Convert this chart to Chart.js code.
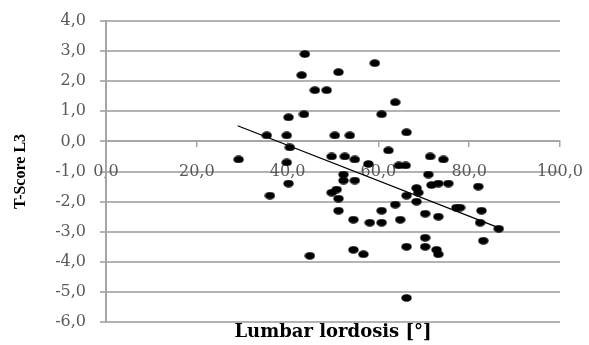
<!DOCTYPE html>
<html>
<head>
<meta charset="utf-8">
<script src="https://cdn.jsdelivr.net/npm/chart.js@4.4.0/dist/chart.umd.min.js"></script>
<style>
  html, body { margin:0; padding:0; background:#fff; }
</style>
</head>
<body>
<canvas id="grafica" width="589" height="345"></canvas>
<script>
// Lumbar lordosis [°] vs T-Score L3
var lordosis = [29.2, 35.4, 36.1, 39.8, 40.2, 39.8, 40.5, 40.2, 43.8, 43.1,
                43.6, 46.0, 48.6, 51.2, 44.9, 50.4, 53.7, 49.7, 52.6, 54.8,
                52.3, 52.3, 54.8, 49.7, 50.8, 51.2, 51.2, 59.2, 63.7, 60.7,
                66.2, 62.2, 57.8, 64.5, 66.0, 71.4, 74.3, 71.0, 71.7, 73.2,
                75.4, 82.0, 68.4, 68.8, 66.2, 68.4, 63.7, 77.2, 78.0, 82.7,
                60.7, 64.8, 70.3, 73.2, 54.5, 58.1, 60.7, 82.4, 86.5, 83.1,
                54.5, 56.7, 66.2, 70.3, 70.3, 72.8, 73.2, 66.2];
var tScore   = [-0.6, 0.2, -1.8, 0.2, 0.8, -0.7, -0.2, -1.4, 2.9, 2.2,
                0.9, 1.7, 1.7, 2.3, -3.8, 0.2, 0.2, -0.5, -0.5, -0.6,
                -1.1, -1.3, -1.3, -1.7, -1.6, -1.9, -2.3, 2.6, 1.3, 0.9,
                0.3, -0.3, -0.75, -0.8, -0.8, -0.5, -0.6, -1.1, -1.45, -1.4,
                -1.4, -1.5, -1.55, -1.7, -1.8, -2.0, -2.1, -2.2, -2.2, -2.3,
                -2.3, -2.6, -2.4, -2.5, -2.6, -2.7, -2.7, -2.7, -2.9, -3.3,
                -3.6, -3.75, -3.5, -3.2, -3.5, -3.6, -3.75, -5.2];
// linear trend line ends
var trendX = [29, 87];
var trendY = [0.52, -2.9];

function coma(v){
    return Number(v).toFixed(1).replace('.', ',');
}

var puntos = lordosis.map(function(x, i){ return {x: x, y: tScore[i]}; });
var recta = trendX.map(function(x, i){ return {x: x, y: trendY[i]}; });

// slightly flattened black dot like the original
var dot = document.createElement('canvas');
dot.width = 11; dot.height = 8;
var dctx = dot.getContext('2d');
dctx.fillStyle = '#000';
dctx.beginPath();
dctx.ellipse(5.5, 4, 5.2, 3.8, 0, 0, Math.PI*2);
dctx.fill();

var gris = '#595959';
var ctx = document.getElementById('grafica').getContext('2d');
var myChart = new Chart(ctx, {
    type: 'scatter',
    data: {
        datasets: [{
            label: 'T-Score L3',
            data: puntos,
            pointStyle: dot,
            pointRadius: 5,
            backgroundColor: '#000',
            borderColor: '#000'
        }, {
            label: 'Lineal',
            data: recta,
            showLine: true,
            pointRadius: 0,
            borderColor: '#000',
            borderWidth: 1.3
        }]
    },
    options: {
        responsive: false,
        animation: false,
        devicePixelRatio: 1,
        layout: {
            padding: {top: 21, right: 29, bottom: 0, left: 0}
        },
        scales: {
            x: {
                type: 'linear',
                position: {y: 0},
                min: 0,
                max: 100,
                // labels may overflow, the layout padding handles it
                afterFit: function(s){ s.paddingLeft = 0; s.paddingRight = 0; },
                ticks: {
                    stepSize: 20,
                    padding: 16,
                    color: gris,
                    font: {family: 'DejaVu Serif', size: 16},
                    callback: coma
                },
                grid: {
                    drawOnChartArea: false,
                    drawTicks: true,
                    tickLength: 5,
                    color: '#a6a6a6',
                    lineWidth: 1.5
                },
                border: {color: '#a6a6a6', width: 2}
            },
            // only carries the axis title under the plot
            xTitulo: {
                type: 'linear',
                axis: 'x',
                position: 'bottom',
                min: 0,
                max: 100,
                ticks: {display: false},
                grid: {display: false, drawTicks: false},
                border: {display: false},
                title: {
                    display: true,
                    text: 'Lumbar lordosis [°]',
                    color: '#000',
                    padding: {top: 1, bottom: 4},
                    font: {family: 'DejaVu Serif', size: 18, weight: 'bold', lineHeight: 1.0}
                }
            },
            y: {
                min: -6,
                max: 4,
                afterFit: function(s){
                    s.width = 106;
                    s.paddingTop = 0;
                    s.paddingBottom = 0;
                },
                ticks: {
                    stepSize: 1,
                    padding: 14,
                    color: gris,
                    font: {family: 'DejaVu Serif', size: 16},
                    callback: coma
                },
                grid: {
                    color: '#b3b3b3',
                    lineWidth: 2,
                    tickLength: 6
                },
                border: {color: '#a6a6a6', width: 2},
                title: {
                    display: true,
                    text: 'T-Score L3',
                    color: '#000',
                    padding: {top: 11, bottom: 0},
                    font: {family: 'Liberation Serif', size: 16, weight: 'bold'}
                }
            }
        },
        plugins: {
            legend: {display: false},
            tooltip: {enabled: false}
        }
    }
});
</script>
</body>
</html>
